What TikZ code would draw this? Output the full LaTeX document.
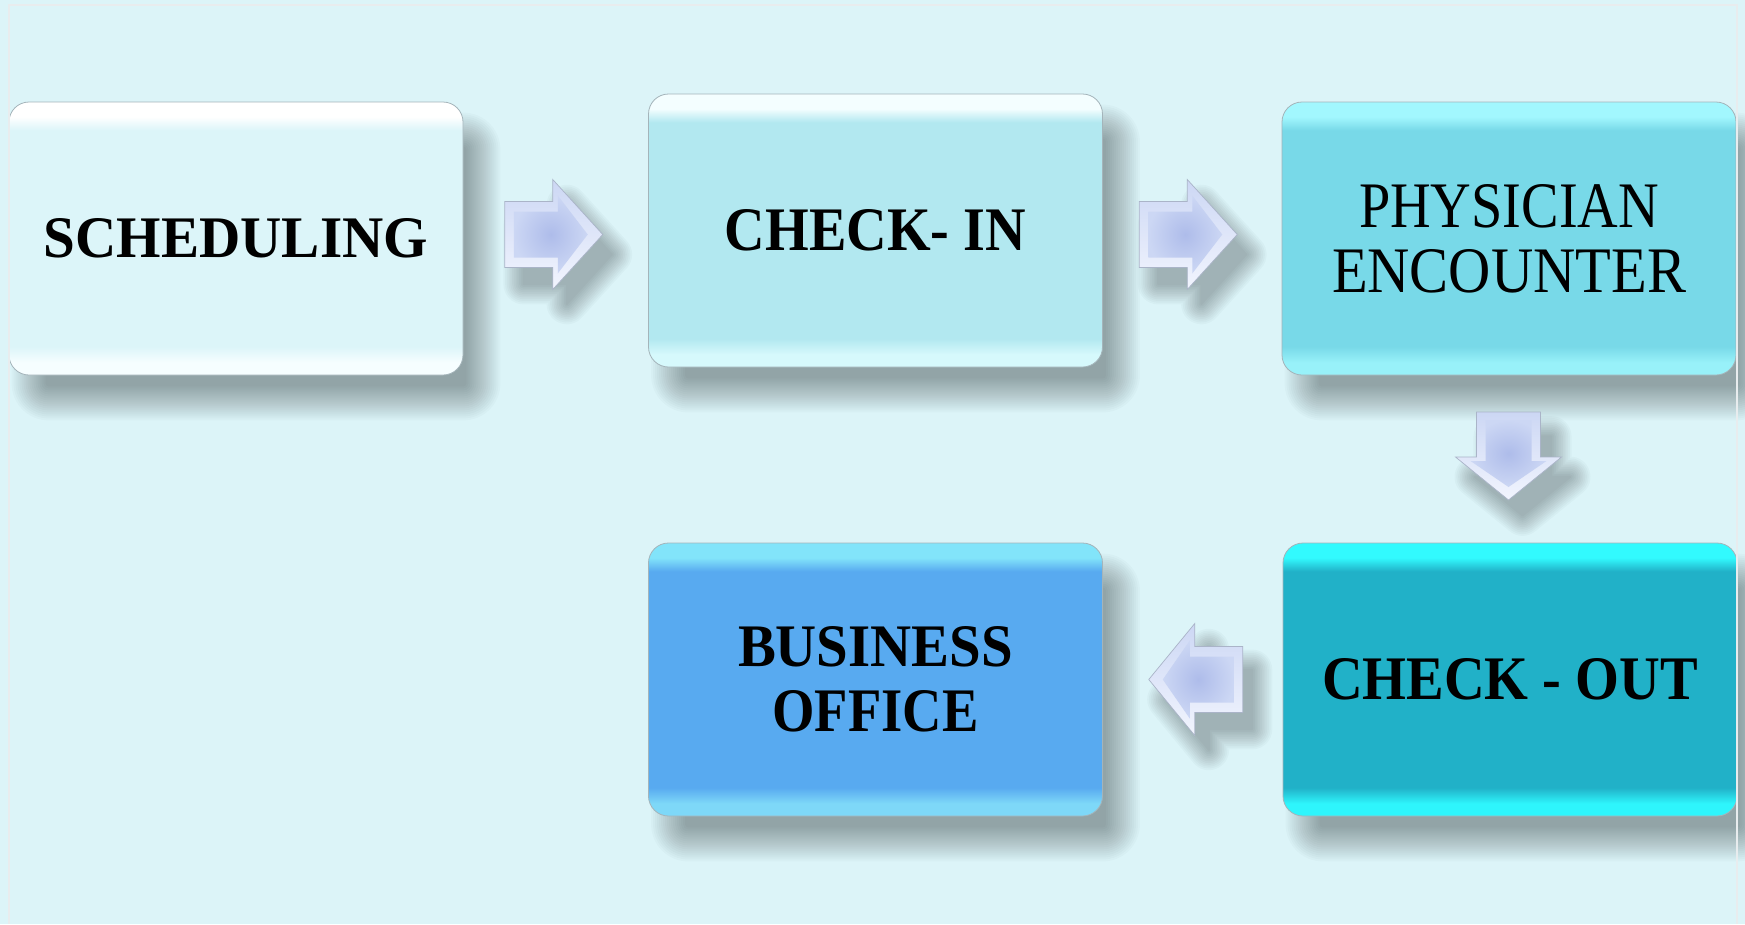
\documentclass[tikz,border=0pt]{standalone}
\usepackage{fontspec}
\setmainfont{Liberation Serif}
\usetikzlibrary{calc}

% page and frame colours
\definecolor{pagebg}{HTML}{DCF4F8}
\definecolor{framec}{HTML}{E8ECEE}
\definecolor{boxedge}{HTML}{A4B4BA}
% box colours: body, top band, bottom band
\definecolor{schedM}{HTML}{DCF5F9}\definecolor{schedT}{HTML}{FFFFFF}\definecolor{schedB}{HTML}{F6FEFF}
\definecolor{chinM}{HTML}{B2E8F0}\definecolor{chinT}{HTML}{F4FEFF}\definecolor{chinB}{HTML}{D6F9FC}
\definecolor{physM}{HTML}{78D9E8}\definecolor{physT}{HTML}{A2F7FE}\definecolor{physB}{HTML}{98F1F9}
\definecolor{choutM}{HTML}{21B1C8}\definecolor{choutT}{HTML}{32FAFE}\definecolor{choutB}{HTML}{2EF5FC}
\definecolor{busM}{HTML}{58AAF0}\definecolor{busT}{HTML}{82E4FA}\definecolor{busB}{HTML}{7ED8F8}
% block arrow colours
\definecolor{arrowlight}{HTML}{F2F5FE}
\definecolor{arrowmid}{HTML}{CCD7F4}
\definecolor{arrowdark}{HTML}{AEBCEA}
\definecolor{arrowedge}{HTML}{AAB4C8}

% glossy box shading: light band at top and bottom, flat body between
\newcommand\boxshading[4]{%
  \pgfdeclareverticalshading{#1}{100bp}{color(0bp)=(#4); color(25bp)=(#4);
    color(27.3bp)=(#4); color(30.2bp)=(#2); color(69.8bp)=(#2);
    color(72.3bp)=(#3); color(75bp)=(#3); color(100bp)=(#3)}}
\boxshading{shSched}{schedM}{schedT}{schedB}
\boxshading{shChin}{chinM}{chinT}{chinB}
\boxshading{shPhys}{physM}{physT}{physB}
\boxshading{shChout}{choutM}{choutT}{choutB}
\boxshading{shBus}{busM}{busT}{busB}

\pgfdeclarelayer{back}
\pgfdeclarelayer{shadow}
\pgfsetlayers{back,shadow,main}

\tikzset{
  stepbox/.style={rounded corners=20pt, minimum width=454pt, minimum height=273pt,
    inner sep=0pt, shade, draw=boxedge, line width=0.8pt, align=center,
    font=\fontsize{40}{65}\selectfont},
  arrowouter/.style={draw=arrowedge, line width=0.7pt, line join=miter,
    top color=arrowmid, bottom color=arrowlight},
  arrowinner/.style={inner color=arrowdark, outer color=arrowmid},
}

% soft drop shadow of a rounded box: stacked faint rounded rectangles
\newcommand\boxshadow[1]{%
  \begin{pgfonlayer}{shadow}
  \foreach \k in {0,...,17}{%
    \pgfmathsetmacro\r{-17+2*\k}%
    \pgfmathsetmacro\rc{max(20+\r,2)}%
    \fill[black, opacity=0.02, rounded corners=\rc pt]
      ($(#1.north west)+(20-\r,28-\r)$) rectangle ($(#1.south east)+(20+\r,28+\r)$);
  }
  \end{pgfonlayer}}

% outlines of the block arrows, centred on the origin
\def\shapeR{(-49,-33) -- (-1,-33) -- (-1,-55) -- (49,0) -- (-1,55) -- (-1,33) -- (-49,33) -- cycle}
\def\innerR{(-40,-23) -- (4,-23) -- (4,-39) -- (34,0) -- (4,39) -- (4,23) -- (-40,23) -- cycle}
\def\shapeL{(47,-33) -- (-1,-33) -- (-1,-56) -- (-47,0) -- (-1,56) -- (-1,33) -- (47,33) -- cycle}
\def\innerL{(38,-23) -- (-6,-23) -- (-6,-39) -- (-33,0) -- (-6,39) -- (-6,23) -- (38,23) -- cycle}
\def\shapeD{(-32,-44) -- (-32,1) -- (-53,1) -- (0,44) -- (53,1) -- (32,1) -- (32,-44) -- cycle}
\def\innerD{(-23,-36) -- (-23,5) -- (-38,5) -- (0,31) -- (38,5) -- (23,5) -- (23,-36) -- cycle}

% block arrow #2/#3 (outline/inner) round the named point #1, with a soft shadow
\newcommand\blockarrow[3]{%
  \begin{pgfonlayer}{shadow}
  \foreach \k in {0,...,11}{%
    \pgfmathsetmacro\w{2+3.5*\k}%
    \begin{scope}[shift={(#1)}, shift={(14,20)}, scale=0.9, transparency group, opacity=0.024]
      \filldraw[black, line width=\w pt, line join=round] #2;
    \end{scope}
  }
  \end{pgfonlayer}
  \begin{scope}[shift={(#1)}]
    \path[arrowouter] #2;
    \path[arrowinner] #3;
  \end{scope}}

\begin{document}
\begin{tikzpicture}[x=1pt, y=-1pt]
  % page
  \begin{pgfonlayer}{back}
    \fill[pagebg] (0,0) rectangle (1745,924);
  \end{pgfonlayer}
  \useasboundingbox (0,0) rectangle (1745,924);

  % process steps
  \node[stepbox, shading=shSched] (s) at (236,238.5)
    {\resizebox{384pt}{39pt}{\bfseries SCHEDULING}};
  \node[stepbox, shading=shChin] (c) at (875.5,230.5)
    {\resizebox{301pt}{41pt}{\bfseries CHECK- IN}};
  \node[stepbox, shading=shPhys] (p) at (1509,238.5)
    {\resizebox{300pt}{43pt}{PHYSICIAN}\\\resizebox{354pt}{43pt}{ENCOUNTER}};
  \node[stepbox, shading=shChout] (o) at (1510,679.5)
    {\resizebox{376pt}{41pt}{\bfseries CHECK - OUT}};
  \node[stepbox, shading=shBus] (b) at (875.5,679.5)
    {\resizebox{275pt}{40pt}{\bfseries BUSINESS}\\\resizebox{206pt}{41pt}{\bfseries OFFICE}};

  \boxshadow{s}
  \boxshadow{c}
  \boxshadow{p}
  \boxshadow{o}
  \boxshadow{b}

  % arrow centres between neighbouring steps
  \coordinate (a1) at ($(s.east)!0.5!(c.west)+(-2,0)$);
  \coordinate (a2) at ($(c.east)!0.5!(p.west)+(-4,0)$);
  \coordinate (a3) at ($(p.south)!0.5!(o.north)+(-1,-3)$);
  \coordinate (a4) at ($(o.west)!0.5!(b.east)+(3,0)$);

  \blockarrow{a1}{\shapeR}{\innerR}
  \blockarrow{a2}{\shapeR}{\innerR}
  \blockarrow{a3}{\shapeD}{\innerD}
  \blockarrow{a4}{\shapeL}{\innerL}

  % slide frame
  \draw[framec, line width=2pt] (9,924) -- (9,5) -- (1737,5) -- (1737,924);
\end{tikzpicture}
\end{document}
